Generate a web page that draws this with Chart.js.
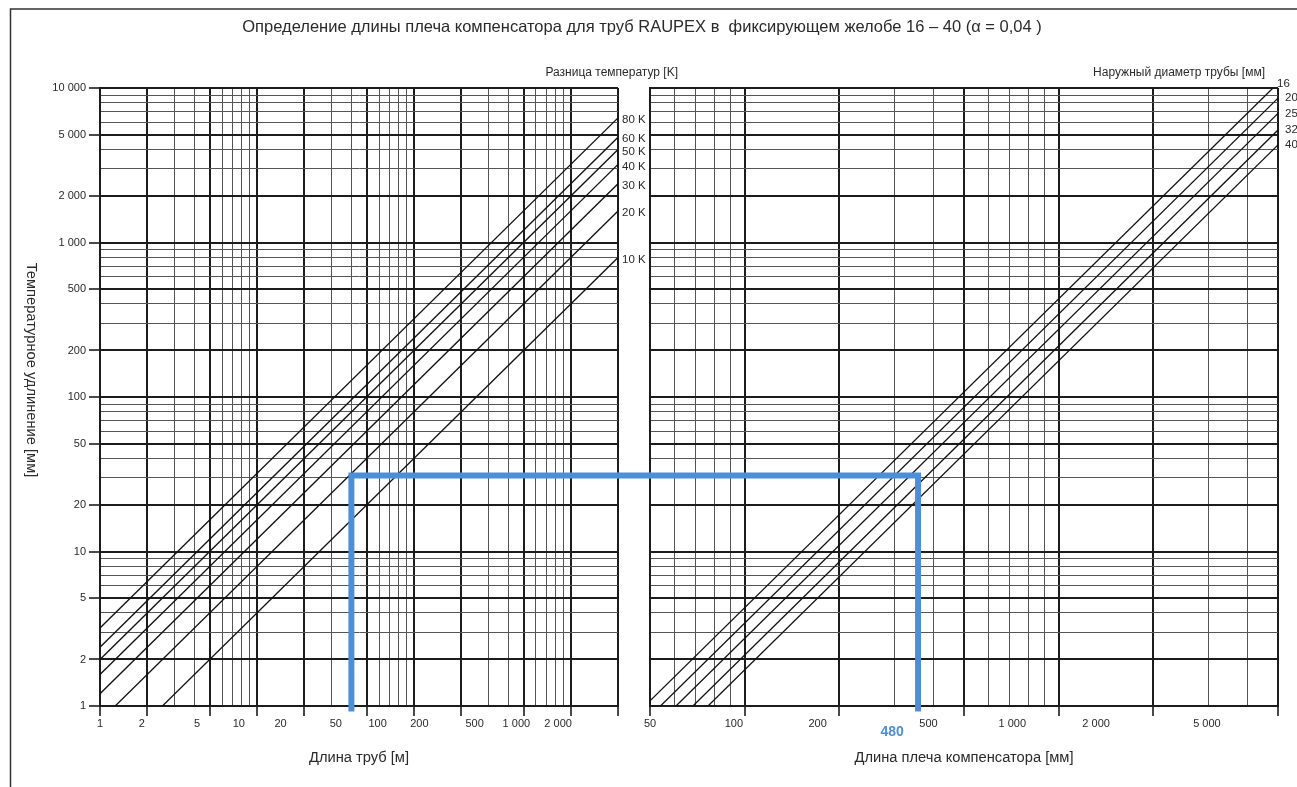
<!DOCTYPE html>
<html><head><meta charset="utf-8">
<script src="https://cdn.jsdelivr.net/npm/chart.js@4.4.0/dist/chart.umd.min.js"></script>
<style>
html,body{margin:0;padding:0;background:#fff;}
#wrap{position:relative;width:1297px;height:787px;overflow:hidden;}
#wrap canvas{position:absolute;left:0;top:0;}
</style></head><body>
<div id="wrap"><canvas id="cL" width="1297" height="787"></canvas><canvas id="cR" width="1297" height="787"></canvas></div>
<script>
// ---------------- DATA ----------------
const chartTitle = 'Определение длины плеча компенсатора для труб RAUPEX в  фиксирующем желобе 16 – 40 (α = 0,04 )';
const yTitle = 'Температурное удлинение [мм]';
const leftXTitle = 'Длина труб [м]';
const rightXTitle = 'Длина плеча компенсатора [мм]';
const leftLegendTitle = 'Разница температур [K]';
const rightLegendTitle = 'Наружный диаметр трубы [мм]';

const yTickValues = [1, 2, 5, 10, 20, 50, 100, 200, 500, 1000, 2000, 5000, 10000];
const yTickLabels = ['1', '2', '5', '10', '20', '50', '100', '200', '500', '1 000', '2 000', '5 000', '10 000'];
const leftTickValues = [1, 2, 5, 10, 20, 50, 100, 200, 500, 1000, 2000];
const leftTickLabels = ['1', '2', '5', '10', '20', '50', '100', '200', '500', '1 000', '2 000'];
const rightTickValues = [50, 100, 200, 500, 1000, 2000, 5000];
const rightTickLabels = ['50', '100', '200', '500', '1 000', '2 000', '5 000'];

// temperature lines (pipe length m -> elongation mm), start and end points
const tempLabels = ['80 K', '60 K', '50 K', '40 K', '30 K', '20 K', '10 K'];
const tempStart = [[1, 3.2], [1, 2.4], [1, 2.0], [1, 1.6], [1, 1.2], [1.25, 1], [2.5, 1]];
const tempEnd = [[2000, 6400], [2000, 4800], [2000, 4000], [2000, 3200], [2000, 2400], [2000, 1600], [2000, 800]];

// diameter lines (arm length mm -> elongation mm), start and end points
const diamLabels = ['16', '20', '25', '32', '40'];
const diamStart = [[50, 1.08], [54, 1], [60.5, 1], [68.5, 1], [76.5, 1]];
const diamEnd = [[4820, 10000], [5000, 8600], [5000, 6850], [5000, 5350], [5000, 4280]];

// example reading (blue)
const examplePipeLength = 40;
const exampleElongation = 31;
const exampleArm = 357;
const exampleArmLabel = '480';
const exampleBottom = 0.92;

// ---------------- STYLE / HELPERS ----------------
const FONT = '"Liberation Sans", Arial, Helvetica, sans-serif';
const MAJOR = '#1c1c1c', MINOR = '#555';
const BLUE = '#4d8fd6';
const TXT = '#2a2a2a';

function mant(v){ const e = Math.floor(Math.log10(v) + 1e-9); return Math.round(v / Math.pow(10, e) * 1000) / 1000; }
function isMajor(v){ const m = mant(v); return m === 1 || m === 2 || m === 5; }
function gridValues(min, max){
  const out = [];
  for (let e = Math.floor(Math.log10(min)); e <= Math.ceil(Math.log10(max)); e++) {
    for (let m = 1; m <= 9; m++) {
      const v = +(m * Math.pow(10, e)).toPrecision(6);
      if (v >= min - 1e-9 && v <= max + 1e-9) out.push(v);
    }
  }
  return out;
}
const gridOpts = (tickLen, showTicks) => ({
  color: c => (c.tick && !isMajor(c.tick.value)) ? MINOR : MAJOR,
  lineWidth: c => (c.tick && !isMajor(c.tick.value)) ? 1 : 2,
  drawTicks: showTicks,
  tickLength: tickLen,
  tickColor: c => (c.tick && isMajor(c.tick.value)) ? MAJOR : 'rgba(0,0,0,0)',
  tickWidth: 1.6
});
const pts = (a, b) => [{x: a[0], y: a[1]}, {x: b[0], y: b[1]}];

function lineDatasets(labels, starts, ends){
  return labels.map((l, i) => ({
    label: l, data: pts(starts[i], ends[i]), showLine: true,
    borderColor: '#111', borderWidth: 1.3, pointRadius: 0, order: 2
  }));
}

// label plugin: draws text at the end of each labelled line
const endLabels = {
  id: 'endLabels',
  afterDatasetsDraw(chart, args, opts) {
    const ctx = chart.ctx;
    ctx.save();
    ctx.fillStyle = TXT;
    ctx.font = opts.font;
    ctx.textBaseline = 'middle';
    ctx.textAlign = 'left';
    chart.data.datasets.forEach((ds, i) => {
      if (!ds.endLabel) return;
      const el = chart.getDatasetMeta(i).data[ds.data.length - 1];
      const atTop = el.y <= chart.chartArea.top + 1;
      ctx.fillText(ds.label, el.x + (atTop ? opts.dxTop : opts.dx), el.y + (atTop ? opts.dyTop : opts.dy));
    });
    ctx.restore();
  }
};

// ---------------- LEFT CHART ----------------
const leftDs = lineDatasets(tempLabels, tempStart, tempEnd).map(d => Object.assign(d, {endLabel: true}));
leftDs.unshift({
  label: 'example', data: [{x: examplePipeLength, y: exampleBottom}, {x: examplePipeLength, y: exampleElongation}, {x: 2000, y: exampleElongation}],
  showLine: true, borderColor: BLUE, borderWidth: 6, pointRadius: 0, clip: false,
  borderJoinStyle: 'miter', borderCapStyle: 'butt', order: 1
});

const pageDecor = {
  id: 'pageDecor',
  afterDraw(chart) {
    const ctx = chart.ctx;
    ctx.save();
    // frame
    ctx.strokeStyle = '#333'; ctx.lineWidth = 1.5;
    ctx.beginPath(); ctx.moveTo(10.5, 787); ctx.lineTo(10.5, 9); ctx.lineTo(1297, 9); ctx.stroke();
    ctx.fillStyle = TXT;
    ctx.textBaseline = 'middle';
    // title
    ctx.font = '16.5px ' + FONT; ctx.textAlign = 'center';
    ctx.fillText(chartTitle, 642, 27);
    // legend titles
    ctx.font = '12px ' + FONT; ctx.textAlign = 'right';
    ctx.fillText(leftLegendTitle, 678, 73);
    ctx.fillText(rightLegendTitle, 1265, 73);
    // y title, rotated clockwise
    ctx.font = '14.7px ' + FONT; ctx.textAlign = 'center';
    ctx.translate(31, 370); ctx.rotate(Math.PI / 2);
    ctx.fillText(yTitle, 0, 0);
    ctx.restore();
  }
};

const chartL = new Chart(document.getElementById('cL'), {
  type: 'scatter',
  data: {datasets: leftDs},
  options: {
    responsive: false, animation: false, events: [], devicePixelRatio: 1,
    layout: {padding: {left: 0, right: 679, top: 88, bottom: 0}},
    plugins: {legend: {display: false}, tooltip: {enabled: false},
      endLabels: {font: '11.5px ' + FONT, dx: 4, dy: 2, dxTop: 4, dyTop: -4}},
    scales: {
      x: {
        type: 'logarithmic', min: 1, max: 2000, position: 'bottom', weight: 0,
        afterBuildTicks: s => { s.ticks = gridValues(1, 2000).map(v => ({value: v})); },
        afterFit: s => { s.height = 10; },
        ticks: {display: false},
        grid: gridOpts(10, true),
        border: {color: MAJOR, width: 2}
      },
      xl: {
        type: 'logarithmic', min: 1, max: 5400, position: 'bottom', weight: 1,
        afterBuildTicks: s => { s.ticks = leftTickValues.map(v => ({value: v})); },
        afterFit: s => { s.height = 71; },
        grid: {display: false, drawTicks: false}, border: {display: false},
        ticks: {autoSkip: false, maxRotation: 0, padding: 1.5, color: TXT, font: {family: FONT, size: 11},
          callback: (v, i) => leftTickLabels[i]},
        title: {display: true, text: leftXTitle, color: TXT, font: {family: FONT, size: 14.7}, padding: {top: 0, bottom: 20}}
      },
      y: {
        type: 'logarithmic', min: 1, max: 10000, position: 'left',
        afterBuildTicks: s => { s.ticks = gridValues(1, 10000).map(v => ({value: v})); },
        afterFit: s => { s.width = 100; },
        ticks: {autoSkip: false, padding: 3, color: TXT, font: {family: FONT, size: 11},
          callback: v => { const k = yTickValues.indexOf(v); return k >= 0 ? yTickLabels[k] : ''; }},
        grid: gridOpts(11, true),
        border: {color: MAJOR, width: 2}
      }
    }
  },
  plugins: [endLabels, pageDecor]
});

// ---------------- RIGHT CHART ----------------
const rightDs = lineDatasets(diamLabels, diamStart, diamEnd).map(d => Object.assign(d, {endLabel: true}));
rightDs.unshift({
  label: 'example', data: [{x: 50, y: exampleElongation}, {x: exampleArm, y: exampleElongation}, {x: exampleArm, y: exampleBottom}],
  showLine: true, borderColor: BLUE, borderWidth: 6, pointRadius: 0, clip: false,
  borderJoinStyle: 'miter', borderCapStyle: 'butt', order: 1
});

const connector = {
  id: 'connector',
  afterDatasetsDraw(chart) {
    const ctx = chart.ctx;
    const xa = chartL.scales.x.getPixelForValue(2000);
    const xb = chart.scales.x.getPixelForValue(50);
    const y = chart.scales.y.getPixelForValue(exampleElongation);
    ctx.save();
    ctx.strokeStyle = BLUE; ctx.lineWidth = 6; ctx.lineCap = 'butt';
    ctx.beginPath(); ctx.moveTo(xa - 1, y); ctx.lineTo(xb + 1, y); ctx.stroke();
    // value label under the axis
    const xv = chart.scales.x.getPixelForValue(exampleArm);
    ctx.fillStyle = BLUE; ctx.font = 'bold 14px ' + FONT; ctx.textAlign = 'center'; ctx.textBaseline = 'middle';
    ctx.fillText(exampleArmLabel, xv - 26, 732);
    ctx.restore();
  }
};

const chartR = new Chart(document.getElementById('cR'), {
  type: 'scatter',
  data: {datasets: rightDs},
  options: {
    responsive: false, animation: false, events: [], devicePixelRatio: 1,
    layout: {padding: {left: 650, right: 19, top: 88, bottom: 0}},
    plugins: {legend: {display: false}, tooltip: {enabled: false},
      endLabels: {font: '11.5px ' + FONT, dx: 7, dy: 0, dxTop: 4, dyTop: -4}},
    scales: {
      x: {
        type: 'logarithmic', min: 50, max: 5000, position: 'bottom', weight: 0,
        afterBuildTicks: s => { s.ticks = gridValues(50, 5000).map(v => ({value: v})); },
        afterFit: s => { s.height = 10; },
        ticks: {display: false},
        grid: gridOpts(10, true),
        border: {color: MAJOR, width: 2}
      },
      xl: {
        type: 'logarithmic', min: 50, max: 9000, position: 'bottom', weight: 1,
        afterBuildTicks: s => { s.ticks = rightTickValues.map(v => ({value: v})); },
        afterFit: s => { s.height = 71; },
        grid: {display: false, drawTicks: false}, border: {display: false},
        ticks: {autoSkip: false, maxRotation: 0, padding: 1.5, color: TXT, font: {family: FONT, size: 11},
          callback: (v, i) => rightTickLabels[i]},
        title: {display: true, text: rightXTitle, color: TXT, font: {family: FONT, size: 14.7}, padding: {top: 0, bottom: 20}}
      },
      y: {
        type: 'logarithmic', min: 1, max: 10000, position: 'left',
        afterBuildTicks: s => { s.ticks = gridValues(1, 10000).map(v => ({value: v})); },
        afterFit: s => { s.width = 0; },
        ticks: {display: false},
        grid: gridOpts(0, false),
        border: {color: MAJOR, width: 2}
      }
    }
  },
  plugins: [endLabels, connector]
});
</script>
</body></html>
